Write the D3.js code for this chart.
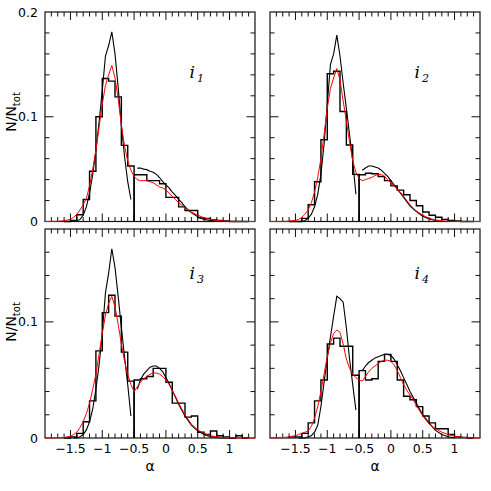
<!DOCTYPE html>
<html><head><meta charset="utf-8">
<script src="https://cdn.jsdelivr.net/npm/d3@7"></script>
<style>body{margin:0;background:#fff}svg{display:block}</style>
</head><body>
<svg id="c" width="491" height="491"></svg>
<script>
// ---------- data ----------
const panelLabels = ["1", "2", "3", "4"];
const xMajorTicks = [-1.5, -1, -0.5, 0, 0.5, 1];
const xTickLabels = ["\u22121.5", "\u22121", "\u22120.5", "0", "0.5", "1"];
const yTickLabelsTop = ["0", "0.1", "0.2"];
const yTickValuesTop = [0, 0.1, 0.2];
const yTickLabelsBottom = ["0", "0.1"];
const yTickValuesBottom = [0, 0.1];

const histLeftEdges = [-1.6, -1.5, -1.4, -1.3, -1.2, -1.1, -1.0, -0.9, -0.8, -0.7, -0.6, -0.5];
const histRightEdges = [-0.5, -0.4, -0.3, -0.2, -0.1, 0.0, 0.1, 0.2, 0.3, 0.4, 0.5, 0.6, 0.7, 0.8, 0.9, 1.0, 1.1, 1.2, 1.3];

const histLeft1 = [0, 0.001, 0.0064, 0.021, 0.048, 0.100, 0.1365, 0.134, 0.119, 0.0727, 0.053];
const histLeft2 = [0, 0, 0.003, 0.016, 0.038, 0.078, 0.141, 0.1435, 0.105, 0.073, 0.045];
const histLeft3 = [0, 0.001, 0.004, 0.014, 0.032, 0.075, 0.108, 0.123, 0.105, 0.074, 0.049];
const histLeft4 = [0.001, 0.001, 0.004, 0.013, 0.032, 0.050, 0.081, 0.086, 0.079, 0.079, 0.054];

const histRight1 = [0.0447, 0.0447, 0.039, 0.039, 0.036, 0.023, 0.023, 0.014, 0.0105, 0.0105, 0.0035, 0.003, 0.0015, 0.001, 0.0005, 0, 0, 0];
const histRight2 = [0.0447, 0.046, 0.0456, 0.043, 0.039, 0.034, 0.030, 0.0255, 0.020, 0.015, 0.009, 0.006, 0.004, 0.002, 0.001, 0.0005, 0, 0];
const histRight3 = [0.050, 0.051, 0.053, 0.060, 0.060, 0.048, 0.030, 0.030, 0.018, 0.019, 0.005, 0.003, 0.006, 0.002, 0.001, 0, 0.002, 0];
const histRight4 = [0.058, 0.050, 0.051, 0.066, 0.072, 0.066, 0.050, 0.036, 0.033, 0.027, 0.019, 0.013, 0.008, 0.008, 0.003, 0.001, 0.0005, 0];

const blackLeftAlpha = [-1.45, -1.40, -1.35, -1.30, -1.25, -1.20, -1.15, -1.10, -1.05, -1.00, -0.95, -0.90, -0.85, -0.80, -0.75, -0.70, -0.65, -0.60, -0.55];
const blackLeft1 = [0, 0.0005, 0.002, 0.006, 0.014, 0.027, 0.045, 0.068, 0.095, 0.125, 0.158, 0.168, 0.181, 0.160, 0.128, 0.092, 0.062, 0.038, 0.021];
const blackLeft2 = [0, 0, 0.001, 0.003, 0.007, 0.014, 0.026, 0.045, 0.074, 0.112, 0.150, 0.160, 0.178, 0.158, 0.132, 0.108, 0.083, 0.058, 0.026];
const blackLeft3 = [0, 0, 0.001, 0.003, 0.007, 0.014, 0.025, 0.042, 0.063, 0.090, 0.125, 0.142, 0.163, 0.147, 0.122, 0.095, 0.070, 0.046, 0.019];
const blackLeft4 = [0, 0, 0, 0.001, 0.002, 0.005, 0.011, 0.027, 0.048, 0.069, 0.087, 0.105, 0.122, 0.120, 0.117, 0.095, 0.068, 0.046, 0.024];

const blackRightAlpha = [-0.45, -0.40, -0.35, -0.30, -0.25, -0.20, -0.15, -0.10, -0.05, 0.00, 0.05, 0.10, 0.15, 0.20, 0.25, 0.30, 0.35, 0.40, 0.50, 0.60, 0.70, 0.80, 0.90, 1.00];
const blackRight1 = [0.051, 0.051, 0.050, 0.0495, 0.048, 0.047, 0.045, 0.042, 0.038, 0.035, 0.032, 0.028, 0.025, 0.021, 0.018, 0.014, 0.011, 0.0085, 0.0045, 0.002, 0.001, 0.0003, 0, 0];
const blackRight2 = [0.049, 0.051, 0.053, 0.053, 0.052, 0.051, 0.049, 0.046, 0.043, 0.039, 0.035, 0.031, 0.027, 0.023, 0.019, 0.015, 0.012, 0.0095, 0.005, 0.0025, 0.001, 0.0003, 0, 0];
const blackRight3 = [0.042, 0.050, 0.055, 0.058, 0.061, 0.062, 0.062, 0.060, 0.057, 0.052, 0.047, 0.041, 0.035, 0.029, 0.024, 0.019, 0.015, 0.011, 0.006, 0.003, 0.0012, 0.0004, 0, 0];
const blackRight4 = [0.058, 0.062, 0.065, 0.067, 0.069, 0.070, 0.071, 0.072, 0.072, 0.071, 0.068, 0.063, 0.058, 0.052, 0.046, 0.040, 0.035, 0.030, 0.020, 0.013, 0.0065, 0.003, 0.001, 0];

const redAlpha = [-1.9, -1.7, -1.6, -1.5, -1.45, -1.4, -1.35, -1.3, -1.25, -1.2, -1.15, -1.1, -1.05, -1.0, -0.95, -0.9, -0.85, -0.8, -0.75, -0.7, -0.65, -0.6, -0.55, -0.5, -0.45, -0.4, -0.35, -0.3, -0.25, -0.2, -0.15, -0.1, -0.05, 0.0, 0.05, 0.1, 0.15, 0.2, 0.25, 0.3, 0.35, 0.4, 0.5, 0.6, 0.7, 0.8, 0.9, 1.0, 1.1, 1.2, 1.4];
const red1 = [0, 0.0002, 0.0008, 0.002, 0.004, 0.007, 0.011, 0.016, 0.022, 0.034, 0.050, 0.068, 0.090, 0.112, 0.130, 0.140, 0.149, 0.137, 0.117, 0.092, 0.072, 0.058, 0.049, 0.043, 0.040, 0.039, 0.039, 0.039, 0.038, 0.037, 0.035, 0.033, 0.032, 0.030, 0.027, 0.024, 0.021, 0.018, 0.0155, 0.013, 0.011, 0.009, 0.006, 0.0035, 0.002, 0.001, 0.0005, 0.0002, 0.0001, 0, 0];
const red2 = [0, 0.0001, 0.0003, 0.001, 0.002, 0.004, 0.007, 0.011, 0.018, 0.028, 0.042, 0.060, 0.083, 0.108, 0.127, 0.137, 0.146, 0.135, 0.115, 0.096, 0.076, 0.058, 0.047, 0.041, 0.039, 0.040, 0.041, 0.042, 0.044, 0.045, 0.045, 0.043, 0.040, 0.037, 0.034, 0.031, 0.028, 0.024, 0.020, 0.016, 0.013, 0.010, 0.006, 0.003, 0.0015, 0.0007, 0.0003, 0.0001, 0, 0, 0];
const red3 = [0, 0.0002, 0.0005, 0.0015, 0.003, 0.005, 0.009, 0.014, 0.021, 0.030, 0.042, 0.055, 0.072, 0.090, 0.106, 0.116, 0.122, 0.113, 0.098, 0.081, 0.066, 0.055, 0.046, 0.040, 0.044, 0.048, 0.051, 0.053, 0.055, 0.056, 0.056, 0.055, 0.053, 0.050, 0.046, 0.041, 0.036, 0.030, 0.025, 0.020, 0.016, 0.012, 0.007, 0.004, 0.002, 0.001, 0.0005, 0.0002, 0.0001, 0, 0];
const red4 = [0, 0.0003, 0.001, 0.002, 0.003, 0.004, 0.005, 0.006, 0.010, 0.017, 0.027, 0.040, 0.055, 0.070, 0.082, 0.090, 0.093, 0.091, 0.081, 0.068, 0.060, 0.055, 0.052, 0.050, 0.049, 0.053, 0.057, 0.060, 0.062, 0.064, 0.066, 0.067, 0.067, 0.066, 0.063, 0.058, 0.052, 0.046, 0.041, 0.037, 0.033, 0.028, 0.019, 0.012, 0.008, 0.005, 0.003, 0.0015, 0.0007, 0.0002, 0];

// ---------- drawing ----------
const histLefts = [histLeft1, histLeft2, histLeft3, histLeft4];
const histRights = [histRight1, histRight2, histRight3, histRight4];
const blackLefts = [blackLeft1, blackLeft2, blackLeft3, blackLeft4];
const blackRights = [blackRight1, blackRight2, blackRight3, blackRight4];
const reds = [red1, red2, red3, red4];

const svg = d3.select("#c");
const W = 210;
const lefts = [45, 270];
const tops = [12, 229];
const heights = [209.5, 209];
const yMaxes = [0.2, 0.18];
const FONT = "'DejaVu Sans', sans-serif";

function stepPoints(edges, vals) {
  const pts = [[edges[0], 0]];
  vals.forEach((v, i) => { pts.push([edges[i], v]); pts.push([edges[i + 1], v]); });
  pts.push([edges[edges.length - 1], 0]);
  return pts;
}

for (let p = 0; p < 4; p++) {
  const col = p % 2, row = Math.floor(p / 2);
  const L = lefts[col], T = tops[row], H = heights[row];
  const x = d3.scaleLinear().domain([-1.9, 1.4]).range([L, L + W]);
  const y = d3.scaleLinear().domain([0, yMaxes[row]]).range([T + H, T]);
  const g = svg.append("g");

  // frame
  g.append("rect").attr("x", L).attr("y", T).attr("width", W).attr("height", H)
    .attr("fill", "none").attr("stroke", "#111").attr("stroke-width", 1.2);

  // x ticks (top & bottom, inward)
  const xMinor = d3.range(-18, 14).map(k => k / 10);
  xMinor.forEach(v => {
    const major = Math.abs(v * 2 - Math.round(v * 2)) < 1e-6;
    const len = major ? 8 : 4.5;
    const xx = x(v);
    g.append("line").attr("x1", xx).attr("x2", xx).attr("y1", T + H).attr("y2", T + H - len)
      .attr("stroke", "#111").attr("stroke-width", 1);
    g.append("line").attr("x1", xx).attr("x2", xx).attr("y1", T).attr("y2", T + len)
      .attr("stroke", "#111").attr("stroke-width", 1);
  });
  // y ticks (left & right, inward)
  const nY = Math.round(yMaxes[row] / 0.02);
  d3.range(1, nY).map(k => k * 0.02).forEach(v => {
    const major = Math.abs(v * 10 - Math.round(v * 10)) < 1e-6;
    const len = major ? 8.5 : 4.5;
    const yy = y(v);
    g.append("line").attr("x1", L).attr("x2", L + len).attr("y1", yy).attr("y2", yy)
      .attr("stroke", "#111").attr("stroke-width", 1);
    g.append("line").attr("x1", L + W).attr("x2", L + W - len).attr("y1", yy).attr("y2", yy)
      .attr("stroke", "#111").attr("stroke-width", 1);
  });

  // tick labels
  if (col === 0) {
    const vals = row === 0 ? yTickValuesTop : yTickValuesBottom;
    const labs = row === 0 ? yTickLabelsTop : yTickLabelsBottom;
    vals.forEach((v, i) => {
      g.append("text").attr("x", L - 7).attr("y", y(v) + 4.5)
        .attr("text-anchor", "end").attr("font-family", FONT).attr("font-size", 12.5)
        .text(labs[i]);
    });
    // y label
    const cy = row === 0 ? 112 : 322;
    const t = g.append("text").attr("transform", `translate(16,${cy}) rotate(-90)`)
      .attr("text-anchor", "middle").attr("font-family", FONT).attr("font-size", 14);
    t.append("tspan").text("N/N");
    t.append("tspan").attr("font-size", 10).attr("dy", 4).text("tot");
  }
  if (row === 1) {
    xMajorTicks.forEach((v, i) => {
      g.append("text").attr("x", x(v)).attr("y", T + H + 15)
        .attr("text-anchor", "middle").attr("font-family", FONT).attr("font-size", 12.5)
        .text(xTickLabels[i]);
    });
    g.append("text").attr("x", L + W / 2).attr("y", 471).attr("text-anchor", "middle")
      .attr("font-family", FONT).attr("font-size", 14).text("\u03b1");
  }

  // panel label
  const pl = g.append("text").attr("x", x(0.37)).attr("y", y(0.137))
    .attr("font-family", "'DejaVu Serif', serif").attr("font-style", "italic").attr("font-size", 17);
  pl.append("tspan").text("i");
  pl.append("tspan").attr("font-size", 11).attr("dx", 2).attr("dy", 4).text(panelLabels[p]);

  const line = d3.line().x(d => x(d[0])).y(d => y(d[1]));

  // histograms
  g.append("path").attr("d", line(stepPoints(histLeftEdges, histLefts[p])))
    .attr("fill", "none").attr("stroke", "#000").attr("stroke-width", 1.4);
  g.append("path").attr("d", line(stepPoints(histRightEdges, histRights[p])))
    .attr("fill", "none").attr("stroke", "#000").attr("stroke-width", 1.4);

  // black model curves
  g.append("path").attr("d", line(d3.zip(blackLeftAlpha, blackLefts[p])))
    .attr("fill", "none").attr("stroke", "#000").attr("stroke-width", 1.1);
  g.append("path").attr("d", line(d3.zip(blackRightAlpha, blackRights[p])))
    .attr("fill", "none").attr("stroke", "#000").attr("stroke-width", 1.1);

  // red curve
  g.append("path").attr("d", line(d3.zip(redAlpha, reds[p])))
    .attr("fill", "none").attr("stroke", "#ff0000").attr("stroke-width", 1);
}
</script>
</body></html>
